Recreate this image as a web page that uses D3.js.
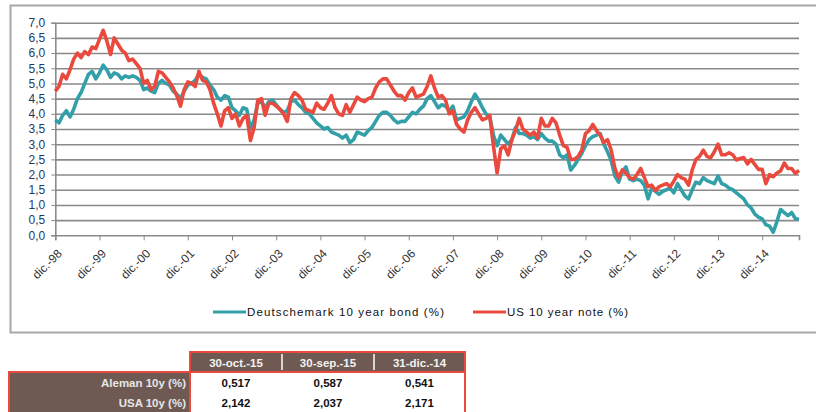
<!DOCTYPE html>
<html>
<head>
<meta charset="utf-8">
<script src="https://cdn.jsdelivr.net/npm/d3@7"></script>
<style>
  body { margin: 0; background: #fff; }
  svg { display: block; font-family: "Liberation Sans", Arial, sans-serif; }
</style>
</head>
<body>
<script>
// month-end yields, dic-98 .. oct-15
var usYield = [4.75,
  4.9, 5.3, 5.15, 5.45, 5.8, 6.0, 5.85, 6.05, 5.95, 6.2, 6.15, 6.45,
  6.75, 6.4, 5.95, 6.5, 6.3, 6.1, 6.0, 5.75, 5.8, 5.65, 5.5, 5.0,
  5.1, 4.8, 4.9, 5.4, 5.35, 5.2, 5.05, 4.85, 4.6, 4.25, 4.8, 5.05,
  5.0, 4.9, 5.4, 5.1, 5.05, 4.8, 4.35, 4.0, 3.6, 4.1, 4.2, 3.85,
  4.0, 3.6, 3.85, 3.95, 3.12, 3.55, 4.45, 4.5, 3.95, 4.35, 4.35, 4.25,
  4.15, 4.0, 3.75, 4.5, 4.7, 4.6, 4.45, 4.15, 4.1, 4.05, 4.35, 4.2,
  4.15, 4.35, 4.6, 4.2, 4.0, 3.95, 4.3, 4.05, 4.3, 4.55, 4.45, 4.4,
  4.5, 4.55, 4.85, 5.05, 5.15, 5.15, 4.95, 4.75, 4.6, 4.6, 4.45, 4.7,
  4.85, 4.55, 4.6, 4.65, 4.9, 5.25, 4.85, 4.55, 4.6, 4.45, 4.0, 4.1,
  3.65, 3.5, 3.4, 3.8, 4.05, 4.2, 4.0, 3.8, 3.85, 3.95, 2.95, 2.05,
  2.85, 2.95, 2.65, 3.15, 3.45, 3.85, 3.5, 3.4, 3.3, 3.4, 3.2, 3.85,
  3.6, 3.6, 3.85, 3.7, 3.3, 2.95, 2.9, 2.5, 2.5, 2.6, 2.8, 3.35,
  3.45, 3.65, 3.45, 3.3, 3.05, 3.15, 2.8, 2.2, 1.9, 2.15, 2.05, 1.9,
  1.85, 2.0, 2.2, 1.9, 1.6, 1.65, 1.48, 1.6, 1.65, 1.7, 1.6, 1.78,
  2.0, 1.9, 1.85, 1.65, 2.15, 2.5, 2.6, 2.8, 2.6, 2.55, 2.75, 3.0,
  2.65, 2.65, 2.72, 2.65, 2.48, 2.53, 2.56, 2.35, 2.5, 2.33, 2.17, 2.17,
  1.7, 2.0, 1.93, 2.05, 2.12, 2.38, 2.2, 2.2, 2.04, 2.14];

var deYield = [3.8,
  3.7, 3.95, 4.1, 3.9, 4.15, 4.5, 4.7, 5.0, 5.3, 5.4, 5.15, 5.35,
  5.6, 5.45, 5.2, 5.35, 5.3, 5.15, 5.25, 5.2, 5.25, 5.2, 5.1, 4.8,
  4.85, 4.75, 4.7, 5.0, 5.1, 5.0, 4.95, 4.75, 4.65, 4.5, 4.75, 4.95,
  5.0, 5.1, 5.3, 5.2, 5.15, 4.95, 4.8, 4.55, 4.45, 4.6, 4.55, 4.2,
  4.1, 3.95, 4.2, 4.15, 3.5, 3.8, 4.35, 4.4, 4.2, 4.4, 4.45, 4.3,
  4.15, 4.05, 4.1, 4.4, 4.45, 4.3, 4.2, 4.05, 4.0, 3.85, 3.7, 3.6,
  3.5, 3.55, 3.4, 3.35, 3.3, 3.2, 3.3, 3.05, 3.15, 3.4, 3.35, 3.3,
  3.45, 3.55, 3.75, 3.95, 4.05, 4.05, 3.95, 3.8, 3.7, 3.75, 3.75, 3.9,
  4.05, 4.0, 4.15, 4.25, 4.5, 4.6, 4.4, 4.2, 4.3, 4.25, 4.1, 4.25,
  3.8, 3.85, 3.9, 4.1, 4.4, 4.65, 4.45, 4.2, 4.0, 3.9, 3.3, 2.95,
  3.3, 3.15, 3.0, 3.15, 3.55, 3.35, 3.35, 3.3, 3.2, 3.25, 3.15, 3.35,
  3.2, 3.1, 3.1, 3.0, 2.65, 2.55, 2.65, 2.15, 2.3, 2.5, 2.7, 2.95,
  3.15, 3.25, 3.3, 3.35, 3.0, 2.75, 2.45, 1.95, 1.75, 2.1, 2.25, 1.85,
  1.8, 1.85, 1.8, 1.65, 1.2, 1.55, 1.45, 1.35, 1.45, 1.5, 1.55, 1.4,
  1.7, 1.5, 1.3, 1.2, 1.5, 1.75, 1.7, 1.9, 1.8, 1.75, 1.7, 1.95,
  1.7, 1.65, 1.55, 1.5, 1.4, 1.3, 1.2, 1.0, 0.9, 0.7, 0.6, 0.54,
  0.35, 0.3, 0.1, 0.45, 0.85, 0.75, 0.65, 0.75, 0.55, 0.52];

var xTickLabels = ["dic.-98","dic.-99","dic.-00","dic.-01","dic.-02","dic.-03","dic.-04","dic.-05",
  "dic.-06","dic.-07","dic.-08","dic.-09","dic.-10","dic.-11","dic.-12","dic.-13","dic.-14"];
var yTicks = [0,0.5,1,1.5,2,2.5,3,3.5,4,4.5,5,5.5,6,6.5,7];
var seriesNames = ["Deutschemark 10 year bond (%)", "US 10 year note (%)"];

var tableCols = ["30-oct.-15", "30-sep.-15", "31-dic.-14"];
var tableRows = ["Aleman 10y (%)", "USA 10y (%)"];
var aleman = [0.517, 0.587, 0.541];
var usa = [2.142, 2.037, 2.171];

var teal = "#33a0a9", red = "#ea4a3e", brown = "#6e5a52";

var svg = d3.select("body").append("svg")
    .attr("width", 816)
    .attr("height", 412);

// chart frame
svg.append("rect")
    .attr("x", 10.5).attr("y", 5.5)
    .attr("width", 830).attr("height", 327)
    .attr("fill", "#fff")
    .attr("stroke", "#a8a8a8")
    .attr("stroke-width", 2);

var x = d3.scaleLinear().domain([0, usYield.length - 1]).range([55.3, 799]);
var y = d3.scaleLinear().domain([0, 7]).range([235.3, 22.7]);

// gridlines
svg.append("g")
    .attr("transform", "translate(55.3,0)")
    .call(d3.axisLeft(y).tickValues(yTicks.slice(1)).tickSize(-(799 - 55.3)).tickFormat(""))
    .call(function(g){
        g.select(".domain").remove();
        g.selectAll("line").attr("stroke", "#8a8a8a").attr("stroke-width", 1.6);
    });

// y axis
svg.append("g")
    .attr("transform", "translate(55.3,0)")
    .call(d3.axisLeft(y).tickValues(yTicks).tickSize(4).tickPadding(6)
        .tickFormat(function(d){ return d.toFixed(1).replace(".", ","); }))
    .call(function(g){
        g.select(".domain").attr("stroke", "#8a8a8a").attr("stroke-width", 1.6);
        g.selectAll("line").attr("stroke", "#8a8a8a");
        g.selectAll("text").attr("fill", "#1f3a5f").style("font-size", "12px");
    });

// x axis
svg.append("g")
    .attr("transform", "translate(0," + y(0) + ")")
    .call(d3.axisBottom(x).tickValues(d3.range(0, 193, 12)).tickSize(5)
        .tickFormat(function(d, i){ return xTickLabels[i]; }))
    .call(function(g){
        g.select(".domain").attr("stroke", "#8a8a8a").attr("stroke-width", 1.6);
        g.selectAll("line").attr("stroke", "#8a8a8a");
        g.selectAll("text")
            .attr("fill", "#333")
            .style("font-size", "12px")
            .attr("text-anchor", "end")
            .attr("dy", "0.35em")
            .attr("x", 0).attr("y", 0)
            .attr("transform", "translate(4,16) rotate(-45)");
    });

var line = d3.line()
    .x(function(d, i){ return x(i); })
    .y(function(d){ return y(d); });

svg.append("path").datum(deYield)
    .attr("d", line)
    .attr("fill", "none").attr("stroke", teal).attr("stroke-width", 3.6)
    .attr("stroke-linejoin", "round");

svg.append("path").datum(usYield)
    .attr("d", line)
    .attr("fill", "none").attr("stroke", red).attr("stroke-width", 3.6)
    .attr("stroke-linejoin", "round");

// legend
var legend = [
    {name: seriesNames[0], color: teal, x: 213, len: 197},
    {name: seriesNames[1], color: red, x: 473, len: 121}
];
legend.forEach(function(l){
    svg.append("line")
        .attr("x1", l.x).attr("x2", l.x + 33)
        .attr("y1", 312).attr("y2", 312)
        .attr("stroke", l.color).attr("stroke-width", 3);
    svg.append("text")
        .attr("x", l.x + 34).attr("y", 316)
        .attr("fill", "#111")
        .style("font-size", "11.5px")
        .attr("textLength", l.len).attr("lengthAdjust", "spacing")
        .text(l.name);
});

// table
var colX = [190, 282, 374, 465];
var headY = 352, rowH = 20;
var fmt = function(v){ return v.toFixed(3).replace(".", ","); };
var rowVals = [aleman, usa];

svg.append("rect").attr("x", colX[0]).attr("y", headY)
    .attr("width", colX[3] - colX[0]).attr("height", rowH).attr("fill", brown);
svg.append("rect").attr("x", 10).attr("y", headY + rowH)
    .attr("width", colX[0] - 10).attr("height", rowH * 2 + 4).attr("fill", brown);

tableCols.forEach(function(c, i){
    svg.append("text")
        .attr("x", (colX[i] + colX[i + 1]) / 2).attr("y", headY + 14.5)
        .attr("text-anchor", "middle")
        .attr("fill", "#f2f2f2").style("font-size", "11.5px").style("font-weight", "bold")
        .text(c);
    if (i > 0) {
        svg.append("line")
            .attr("x1", colX[i]).attr("x2", colX[i])
            .attr("y1", headY + 2).attr("y2", headY + rowH - 2)
            .attr("stroke", "#fff").attr("stroke-width", 1.5);
    }
});

tableRows.forEach(function(r, j){
    var ry = headY + rowH * (j + 1);
    svg.append("text")
        .attr("x", colX[0] - 4).attr("y", ry + 15)
        .attr("text-anchor", "end")
        .attr("fill", "#e6e6e6").style("font-size", "11.5px").style("font-weight", "bold")
        .text(r);
    rowVals[j].forEach(function(v, i){
        svg.append("text")
            .attr("x", (colX[i] + colX[i + 1]) / 2).attr("y", ry + 15)
            .attr("text-anchor", "middle")
            .attr("fill", "#111").style("font-size", "11.5px").style("font-weight", "bold")
            .text(fmt(v));
    });
});

// red borders
svg.append("path")
    .attr("d", "M" + colX[0] + "," + (headY + rowH + 20 * 3) + "V" + headY + "H" + colX[3] + "V" + 420)
    .attr("fill", "none").attr("stroke", red).attr("stroke-width", 2);
svg.append("path")
    .attr("d", "M9," + 420 + "V" + (headY + rowH) + "H" + colX[3])
    .attr("fill", "none").attr("stroke", red).attr("stroke-width", 2);
</script>
</body>
</html>
